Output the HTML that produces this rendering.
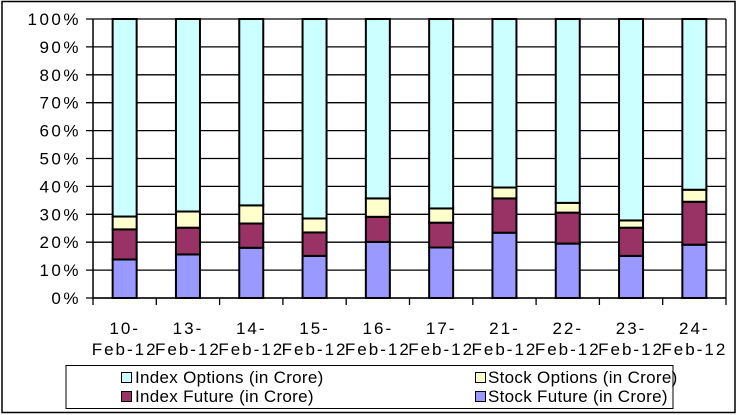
<!DOCTYPE html>
<html><head><meta charset="utf-8"><style>
html,body{margin:0;padding:0;background:#fff;}
svg{display:block;font-family:"Liberation Sans",Arial,sans-serif;}
</style></head><body>
<svg id="chart" width="738" height="415" viewBox="0 0 738 415">
<rect x="2" y="1.5" width="733" height="411" fill="#fff" stroke="#000" stroke-width="1.5"/>
<g id="grid"></g><g id="bars"></g><g id="axes"></g>
<g font-size="17" letter-spacing="0.3">
<rect x="66" y="365.5" width="607" height="43" fill="#fff" stroke="#000" stroke-width="1"/>
<g><rect x="121.5" y="372.5" width="10" height="10" fill="#ccffff" stroke="#000"/><text x="135" y="383">Index Options (in Crore)</text></g>
<g><rect x="475.5" y="372.5" width="10" height="10" fill="#ffffcc" stroke="#000"/><text x="488" y="383">Stock Options (in Crore)</text></g>
<g><rect x="121.5" y="391.5" width="10" height="10" fill="#993366" stroke="#000"/><text x="135" y="402">Index Future (in Crore)</text></g>
<g><rect x="475.5" y="391.5" width="10" height="10" fill="#9999ff" stroke="#000"/><text x="488" y="402">Stock Future (in Crore)</text></g>
</g>
</svg>
<script>
const categoryDays = ["10-","13-","14-","15-","16-","17-","21-","22-","23-","24-"];
const categoryMonths = ["Feb-12","Feb-12","Feb-12","Feb-12","Feb-12","Feb-12","Feb-12","Feb-12","Feb-12","Feb-12"];
const stockFuture = [13.8,15.6,18.0,15.1,20.1,18.1,23.4,19.5,15.1,19.1];
const indexFuture = [10.8,9.6,8.7,8.4,9.0,8.9,12.3,11.1,10.1,15.4];
const stockOptions = [4.6,5.8,6.5,5.0,6.6,5.1,3.9,3.5,2.6,4.3];
const yTicks = ["0%","10%","20%","30%","40%","50%","60%","70%","80%","90%","100%"];
const NS="http://www.w3.org/2000/svg";
const X0=93,X1=726,Y0=298,Y1=19;
const n=categoryDays.length, band=(X1-X0)/n, bw=24;
function y(v){return Y0-(v/100)*(Y0-Y1);}
function xc(i){return X0+band*(i+0.5);}
function mk(t,a,p){const e=document.createElementNS(NS,t);for(const k in a)e.setAttribute(k,a[k]);p.appendChild(e);return e;}
const grid=document.getElementById('grid'),bars=document.getElementById('bars'),axes=document.getElementById('axes');
yTicks.forEach((t,i)=>{const v=i*10,yy=y(v);
 const l=mk('line',{x1:X0-7,x2:X1,y1:yy,y2:yy,stroke:'#000','stroke-width':1.3},grid);
 
 
 const tx=mk('text',{x:81,y:yy+6,'text-anchor':'end','font-size':17,'letter-spacing':2.5},axes);tx.textContent=t;
 
 
});
mk('line',{x1:X1,x2:X1,y1:Y1,y2:Y0,stroke:'#000','stroke-width':1.3},grid);
for(let i=0;i<n;i++){
 const a=stockFuture[i],b=a+indexFuture[i],c=b+stockOptions[i];
 const segs=[[0,a,'#9999ff','stock-future'],[a,b,'#993366','index-future'],[b,c,'#ffffcc','stock-options'],[c,100,'#ccffff','index-options']];
 segs.forEach(s=>{const r=mk('rect',{x:xc(i)-bw/2,y:y(s[1]),width:bw,height:y(s[0])-y(s[1]),fill:s[2],stroke:'#000','stroke-width':2},bars);
  
  });
 const t1=mk('text',{x:xc(i),y:334,'text-anchor':'middle','font-size':17,'letter-spacing':2},axes);t1.textContent=categoryDays[i];
 
 
 const t2=mk('text',{x:xc(i),y:355,'text-anchor':'middle','font-size':17,'letter-spacing':2},axes);t2.textContent=categoryMonths[i];
 
 
}
mk('line',{x1:X0,x2:X0,y1:Y1,y2:Y0,stroke:'#000','stroke-width':1.5},axes);
mk('line',{x1:X0,x2:X1,y1:Y0,y2:Y0,stroke:'#000','stroke-width':1.5},axes);
for(let i=0;i<=n;i++){mk('line',{x1:X0+band*i,x2:X0+band*i,y1:Y0,y2:Y0+7,stroke:'#000','stroke-width':1.3},axes);}
</script>
</body></html>
